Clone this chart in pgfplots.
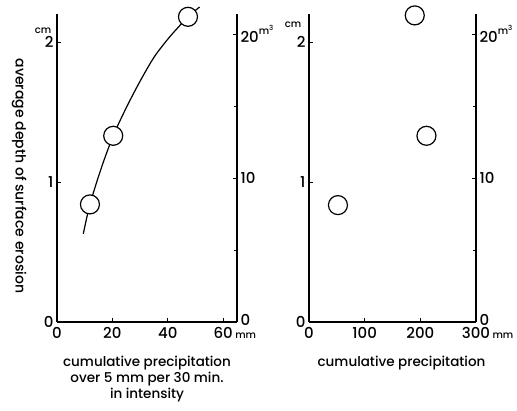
\documentclass[border=0pt]{standalone}
\usepackage{fontspec}
\setmainfont{Poppins Medium}
\usepackage{pgfplots}
\pgfplotsset{compat=1.18}

\pgfplotsset{
  panel/.style={
    scale only axis, height=308pt, ymin=0, ymax=2.2,
    axis x line*=bottom, axis y line*=left,
    axis line style={line width=1.2pt},
    tick align=inside, major tick length=4pt, minor tick length=3pt,
    tick style={line width=0.8pt, black},
    ytick={0,1,2}, yticklabels={0,1,2},
    tick label style={font=\fontsize{15}{15}\selectfont},
    xticklabel style={yshift=-2pt},
    xlabel style={font=\fontsize{13.5}{16}\selectfont, align=center, yshift=-10pt},
    clip=false,
  },
  volume/.style={
    scale only axis, height=308pt, ymin=0, ymax=21.4,
    axis x line=none, axis y line*=right,
    axis line style={line width=1.2pt},
    tick align=inside, major tick length=4pt, minor tick length=3pt,
    tick style={line width=0.8pt, black},
    ytick={0,10,20}, minor ytick={5,15},
    yticklabels={\raisebox{5pt}{0},10,20\rlap{\raisebox{8pt}{\fontsize{10}{10}\selectfont m\textsuperscript{3}}}},
    tick label style={font=\fontsize{15}{15}\selectfont},
  },
  circ/.style={only marks, mark=*, mark size=9.5pt,
    mark options={fill=white, draw=black, line width=1.2pt}},
}

\begin{document}
\begin{tikzpicture}
\path[use as bounding box] (0,0) rectangle (517pt,410pt);

% left panel: precipitation over 5 mm / 30 min
\begin{axis}[panel, at={(57pt,88pt)}, anchor=south west, width=180pt,
  xmin=0, xmax=65, xtick={0,20,40,60},
  xticklabels={0,20,40,60\rlap{\,\fontsize{10}{10}\selectfont mm}},
  xlabel={cumulative precipitation\\over 5 mm per 30 min.\\in intensity}]
  \addplot[black, line width=1.2pt, smooth] coordinates {
    (9.5,0.63) (11.9,0.84) (16,1.10) (20.3,1.33) (25,1.53) (30,1.72)
    (35,1.89) (40,2.02) (44,2.11) (47.3,2.18) (51.5,2.25)};
  \addplot[circ] coordinates {(11.9,0.84) (20.3,1.33) (47.3,2.18)};
\end{axis}
\begin{axis}[volume, at={(57pt,88pt)}, anchor=south west, width=180pt,
  xmin=0, xmax=65]
\end{axis}

% right panel: total precipitation
\begin{axis}[panel, at={(309pt,88pt)}, anchor=south west, width=167pt,
  xmin=0, xmax=300, xtick={0,100,200,300},
  xticklabels={0,100,200,300\rlap{\,\fontsize{10}{10}\selectfont mm}},
  xlabel={cumulative precipitation}, xlabel style={xshift=9pt}]
  \addplot[circ] coordinates {(52,0.835) (211,1.33) (190,2.19)};
\end{axis}
\begin{axis}[volume, at={(309pt,88pt)}, anchor=south west, width=167pt,
  xmin=0, xmax=300]
\end{axis}

\node[font=\fontsize{10}{10}\selectfont] at (43pt,379pt) {cm};
\node[font=\fontsize{10}{10}\selectfont] at (293pt,385pt) {cm};
\node[rotate=-90, font=\fontsize{14}{14}\selectfont] at (19pt,234pt)
  {average depth of surface erosion};
\end{tikzpicture}
\end{document}
